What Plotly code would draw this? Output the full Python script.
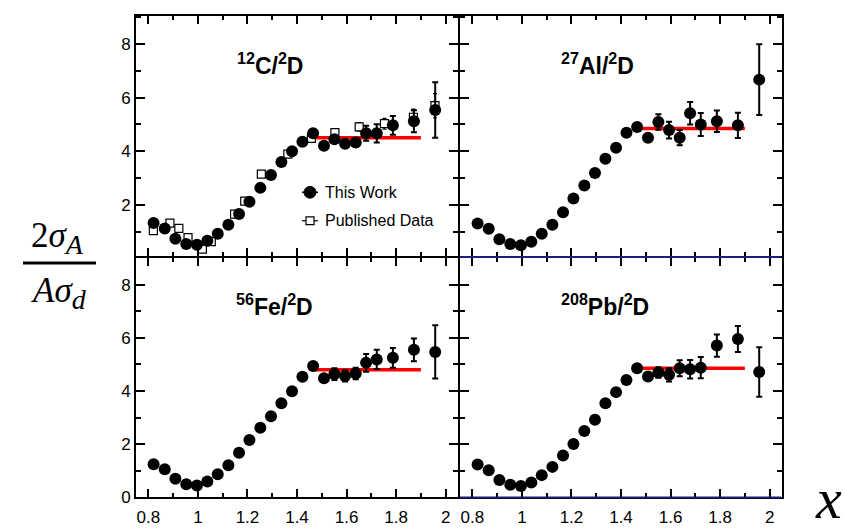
import plotly.graph_objects as go

W, H = 845, 532

# ---- data -------------------------------------------------------------
x_bins = [0.821, 0.866, 0.909, 0.953, 0.996, 1.038, 1.080, 1.123, 1.166, 1.208,
          1.252, 1.295, 1.337, 1.380, 1.422, 1.465, 1.509, 1.551, 1.594, 1.637,
          1.679, 1.722, 1.787, 1.872, 1.958]

ratio_c = [1.33, 1.13, 0.75, 0.55, 0.52, 0.67, 0.93, 1.27, 1.67, 2.12,
           2.64, 3.12, 3.60, 4.00, 4.36, 4.67, 4.21, 4.45, 4.28, 4.33,
           4.67, 4.67, 4.97, 5.12, 5.54]
err_c = [0.04, 0.04, 0.03, 0.03, 0.03, 0.03, 0.03, 0.04, 0.04, 0.05,
         0.05, 0.06, 0.06, 0.07, 0.08, 0.09, 0.10, 0.14, 0.12, 0.15,
         0.28, 0.34, 0.35, 0.41, 1.03]

ratio_al = [1.31, 1.12, 0.73, 0.55, 0.50, 0.63, 0.93, 1.27, 1.73, 2.24,
            2.73, 3.19, 3.72, 4.13, 4.69, 4.91, 4.51, 5.09, 4.79, 4.51,
            5.42, 5.00, 5.12, 4.97, 6.67]
err_al = [0.04, 0.04, 0.03, 0.03, 0.03, 0.03, 0.03, 0.04, 0.04, 0.05,
          0.05, 0.06, 0.06, 0.07, 0.08, 0.10, 0.14, 0.29, 0.31, 0.28,
          0.42, 0.43, 0.40, 0.47, 1.32]

ratio_fe = [1.25, 1.06, 0.70, 0.50, 0.45, 0.60, 0.87, 1.21, 1.68, 2.16,
            2.62, 3.05, 3.54, 3.99, 4.54, 4.94, 4.48, 4.64, 4.57, 4.66,
            5.06, 5.19, 5.25, 5.55, 5.47]
err_fe = [0.04, 0.04, 0.03, 0.03, 0.03, 0.03, 0.03, 0.04, 0.04, 0.05,
          0.05, 0.06, 0.06, 0.07, 0.08, 0.09, 0.12, 0.22, 0.21, 0.22,
          0.33, 0.36, 0.37, 0.43, 1.00]

ratio_pb = [1.24, 1.02, 0.66, 0.48, 0.43, 0.56, 0.84, 1.15, 1.58, 2.01,
            2.50, 2.92, 3.54, 3.96, 4.42, 4.86, 4.55, 4.70, 4.61, 4.86,
            4.82, 4.88, 5.71, 5.96, 4.72]
err_pb = [0.04, 0.04, 0.03, 0.03, 0.03, 0.03, 0.03, 0.04, 0.04, 0.05,
          0.05, 0.06, 0.06, 0.07, 0.08, 0.09, 0.14, 0.20, 0.25, 0.30,
          0.35, 0.40, 0.42, 0.49, 0.93]

# previously published 12C/2D ratios
pub_x = [0.820, 0.887, 0.923, 0.960, 1.018, 1.054, 1.148, 1.189, 1.256, 1.363,
         1.458, 1.553, 1.651, 1.753, 1.870, 1.957]
pub_c = [1.05, 1.33, 1.13, 0.79, 0.36, 0.64, 1.66, 2.15, 3.15, 3.90,
         4.48, 4.70, 4.91, 5.03, 5.27, 5.70]
pub_err = [0.05, 0.05, 0.05, 0.04, 0.03, 0.04, 0.06, 0.07, 0.08, 0.10,
           0.12, 0.14, 0.16, 0.20, 0.30, 0.45]

# plateau fits
fit_range = [1.46, 1.90]
plateau_c, plateau_al, plateau_fe, plateau_pb = 4.51, 4.85, 4.80, 4.86

panel_labels = ["<sup>12</sup>C/<sup>2</sup>D", "<sup>27</sup>Al/<sup>2</sup>D",
                "<sup>56</sup>Fe/<sup>2</sup>D", "<sup>208</sup>Pb/<sup>2</sup>D"]
x_ticks = [0.8, 1.0, 1.2, 1.4, 1.6, 1.8, 2.0]
x_tick_text = ["0.8", "1", "1.2", "1.4", "1.6", "1.8", "2"]
y_ticks = [0, 2, 4, 6, 8]

# ---- layout helpers ---------------------------------------------------
def fx(p):
    return p / W

def fy(p):
    return 1 - p / H

SANS = "Liberation Sans, Arial, Helvetica, sans-serif"
SERIF = "Liberation Serif, Times New Roman, serif"

# neighbouring frames share a single 2px border line
x_left = [fx(136), fx(458)]
x_right = [fx(460), fx(782)]
y_top = [fy(261), fy(16)]
y_bot = [fy(507), fy(263)]

fig = go.Figure()

panels = [
    ("x", "y", ratio_c, err_c, plateau_c),
    ("x2", "y2", ratio_al, err_al, plateau_al),
    ("x3", "y3", ratio_fe, err_fe, plateau_fe),
    ("x4", "y4", ratio_pb, err_pb, plateau_pb),
]

for xa, ya, vals, errs, plat in panels:
    fig.add_trace(go.Scatter(
        x=fit_range, y=[plat, plat], mode="lines",
        line=dict(color="#ff0000", width=3.5),
        xaxis=xa, yaxis=ya, showlegend=False, hoverinfo="skip"))
    if xa == "x":
        fig.add_trace(go.Scatter(
            x=pub_x, y=pub_c, mode="markers",
            marker=dict(symbol="square", size=8, color="white",
                        line=dict(width=1.2, color="black")),
            error_y=dict(type="data", array=pub_err, color="black",
                         thickness=1.2, width=2),
            xaxis=xa, yaxis=ya, showlegend=False))
    fig.add_trace(go.Scatter(
        x=x_bins, y=vals, mode="markers",
        marker=dict(symbol="circle", size=12, color="black"),
        error_y=dict(type="data", array=errs, color="black",
                     thickness=2, width=3),
        xaxis=xa, yaxis=ya, showlegend=False))

axis_common = dict(
    showline=True, linecolor="black", linewidth=2, mirror="ticks",
    ticks="inside", tickcolor="black", tickwidth=1.5,
    showgrid=False, zeroline=False,
    tickfont=dict(family=SANS, size=17, color="black"),
)

xcommon = dict(axis_common, range=[0.75, 2.05], tickvals=x_ticks,
               ticktext=x_tick_text, ticklen=8, ticklabelstandoff=3,
               minor=dict(ticks="inside", dtick=0.1, tick0=0.8, ticklen=4,
                          tickcolor="black", tickwidth=1.5))
ycommon = dict(axis_common, tickvals=y_ticks, ticklen=9,
               minor=dict(ticks="inside", dtick=1, tick0=0, ticklen=5,
                          tickcolor="black", tickwidth=1.5))

fig.update_layout(
    width=W, height=H, margin=dict(l=0, r=0, t=0, b=0),
    paper_bgcolor="white", plot_bgcolor="white",
    xaxis=dict(xcommon, domain=x_left, anchor="y", showticklabels=False),
    yaxis=dict(ycommon, domain=y_top, anchor="x", range=[0.1, 9.05]),
    xaxis2=dict(xcommon, domain=x_right, anchor="y2", showticklabels=False),
    yaxis2=dict(ycommon, domain=y_top, anchor="x2", range=[0.1, 9.05],
                showticklabels=False),
    xaxis3=dict(xcommon, domain=x_left, anchor="y3"),
    yaxis3=dict(ycommon, domain=y_bot, anchor="x3", range=[0, 9.0]),
    xaxis4=dict(xcommon, domain=x_right, anchor="y4"),
    yaxis4=dict(ycommon, domain=y_bot, anchor="x4", range=[0, 9.0],
                showticklabels=False),
)

# panel labels
label_pos = [("x domain", "y domain", 0.415, 0.80),
             ("x2 domain", "y2 domain", 0.427, 0.80),
             ("x3 domain", "y3 domain", 0.43, 0.804),
             ("x4 domain", "y4 domain", 0.449, 0.804)]
for text, (xr, yr, ax, ay) in zip(panel_labels, label_pos):
    fig.add_annotation(text="<b>" + text + "</b>", xref=xr, yref=yr, x=ax, y=ay,
                       showarrow=False, xanchor="center", yanchor="middle",
                       font=dict(family=SANS, size=23, color="black"))

# legend in the carbon panel
shapes = []
shapes.append(dict(type="line", xref="paper", yref="paper",
                   x0=fx(302), x1=fx(318), y0=fy(196), y1=fy(196),
                   line=dict(color="black", width=1.5)))
shapes.append(dict(type="circle", xref="paper", yref="paper",
                   x0=fx(304), x1=fx(316), y0=fy(202), y1=fy(190),
                   fillcolor="black", line=dict(color="black", width=1)))
shapes.append(dict(type="line", xref="paper", yref="paper",
                   x0=fx(302), x1=fx(318), y0=fy(225), y1=fy(225),
                   line=dict(color="black", width=1.2)))
shapes.append(dict(type="rect", xref="paper", yref="paper",
                   x0=fx(306), x1=fx(314), y0=fy(229), y1=fy(221),
                   fillcolor="white", line=dict(color="black", width=1.2)))
fig.add_annotation(text="This Work", xref="paper", yref="paper",
                   x=fx(323), y=fy(196), showarrow=False,
                   xanchor="left", yanchor="middle",
                   font=dict(family=SANS, size=16, color="black"))
fig.add_annotation(text="Published Data", xref="paper", yref="paper",
                   x=fx(323), y=fy(225), showarrow=False,
                   xanchor="left", yanchor="middle",
                   font=dict(family=SANS, size=16, color="black"))

# dark blue lower frame edges of the right-hand panels
for yline in (262, 507):
    shapes.append(dict(type="line", xref="paper", yref="paper",
                       x0=fx(460), x1=fx(781), y0=fy(yline), y1=fy(yline),
                       line=dict(color="#1c1c7a", width=2)))

# y-axis title as a fraction
SUB = "<span style='font-size:28px'>{}</span>"
shapes.append(dict(type="line", xref="paper", yref="paper",
                   x0=fx(23), x1=fx(96), y0=fy(268), y1=fy(268),
                   line=dict(color="black", width=3)))
fig.add_annotation(text="2<i>σ</i><sub><i>" + SUB.format("A") + "</i></sub>",
                   xref="paper", yref="paper",
                   x=fx(58), y=fy(243), showarrow=False,
                   xanchor="center", yanchor="middle",
                   font=dict(family=SERIF, size=35, color="black"))
fig.add_annotation(text="<i>Aσ</i><sub><i>" + SUB.format("d") + "</i></sub>",
                   xref="paper", yref="paper",
                   x=fx(59), y=fy(299), showarrow=False,
                   xanchor="center", yanchor="middle",
                   font=dict(family=SERIF, size=35, color="black"))

# x-axis title
fig.add_annotation(text="<i>x</i>", xref="paper", yref="paper",
                   x=fx(828), y=fy(543), showarrow=False,
                   xanchor="center", yanchor="bottom",
                   font=dict(family=SERIF, size=58, color="black"))

fig.update_layout(shapes=shapes)

fig.write_html("out.html")
